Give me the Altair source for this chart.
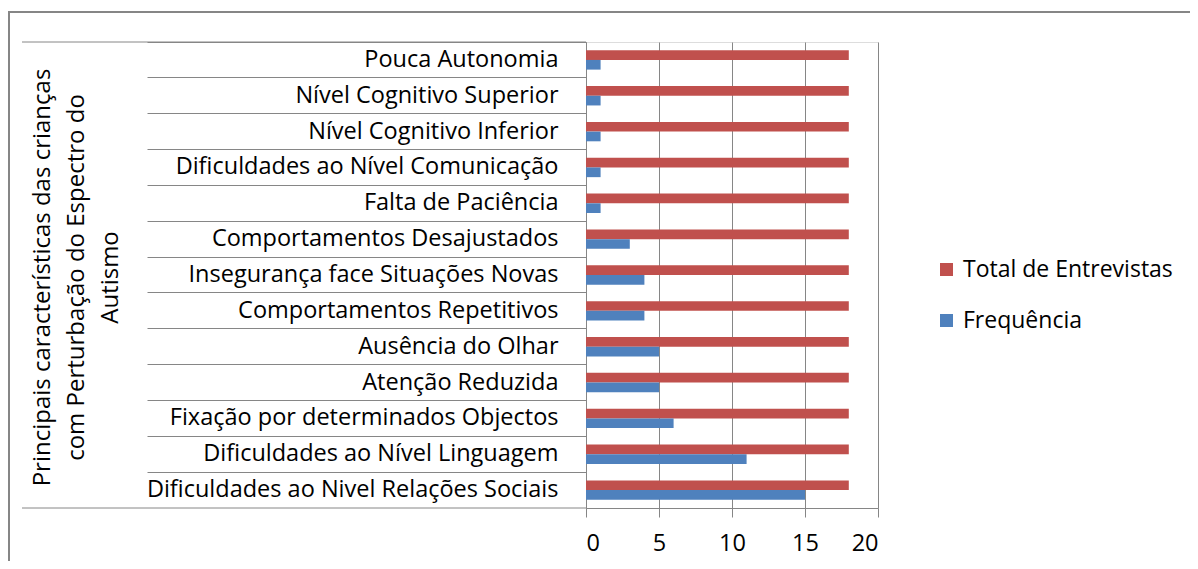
import altair as alt
import pandas as pd

categorias = [
    "Pouca Autonomia",
    "Nível Cognitivo Superior",
    "Nível Cognitivo Inferior",
    "Dificuldades ao Nível Comunicação",
    "Falta de Paciência",
    "Comportamentos Desajustados",
    "Insegurança face Situações Novas",
    "Comportamentos Repetitivos",
    "Ausência do Olhar",
    "Atenção Reduzida",
    "Fixação por determinados Objectos",
    "Dificuldades ao Nível Linguagem",
    "Dificuldades ao Nivel Relações Sociais",
]
total_entrevistas = [18, 18, 18, 18, 18, 18, 18, 18, 18, 18, 18, 18, 18]
frequencia = [1, 1, 1, 1, 1, 3, 4, 4, 5, 5, 6, 11, 15]
series = ["Total de Entrevistas", "Frequência"]
cores = ["#C0504D", "#4F81BD"]
x_ticks = [0, 5, 10, 15, 20]
titulo_y = [
    "Principais características das crianças",
    "com Perturbação do Espectro do",
    "Autismo",
]

FONT = "Open Sans"
FS = 23.5
GRAY = "#868686"
W, H = 292, 466
PL, PT = 578, 34
PR = 1182 - PL - W
PB = 553 - PT - H

rows = []
for c, t, f in zip(categorias, total_entrevistas, frequencia):
    rows.append({"cat": c, "serie": series[0], "valor": t})
    rows.append({"cat": c, "serie": series[1], "valor": f})
df = pd.DataFrame(rows)

bars = alt.Chart(df).mark_bar().encode(
    x=alt.X(
        "valor:Q",
        scale=alt.Scale(domain=[0, 20], nice=False, zero=True),
        axis=alt.Axis(
            values=x_ticks, title=None, grid=True, gridColor=GRAY, gridOpacity=1,
            domainColor=GRAY, tickColor=GRAY, tickSize=9,
            labelFontSize=FS, labelFont=FONT, labelColor="#000", labelPadding=14,
        ),
    ),
    y=alt.Y(
        "cat:N",
        sort=categorias,
        scale=alt.Scale(paddingInner=0, paddingOuter=0),
        axis=alt.Axis(
            title=titulo_y, bandPosition=0, tickSize=439, tickColor=GRAY,
            domainColor=GRAY, labelFontSize=FS, labelFont=FONT, labelColor="#000",
            labelPadding=28 - 439, labelLimit=800,
            titleX=42 - 586, titleY=235, titleAngle=270, titleAlign="center",
            titleBaseline="middle", titleFont=FONT, titleFontSize=24,
            titleFontWeight="normal", titleColor="#000", titleLineHeight=34,
        ),
    ),
    yOffset=alt.YOffset(
        "serie:N", sort=series, scale=alt.Scale(paddingOuter=0.85, paddingInner=0)
    ),
    color=alt.Color(
        "serie:N",
        sort=series,
        scale=alt.Scale(domain=series, range=cores),
        legend=alt.Legend(
            title=None, orient="none", legendX=349, legendY=216,
            symbolType="square", symbolSize=169, symbolStrokeWidth=0,
            symbolOpacity=1, labelFontSize=23, labelFont=FONT,
            labelColor="#000", labelLimit=400, rowPadding=27, labelOffset=5,
            padding=0,
        ),
    ),
)

one = alt.Data(values=[{}])
top_line = alt.Chart(one).mark_rule(color=GRAY, strokeWidth=1).encode(
    x=alt.value(22 - 586), x2=alt.value(0), y=alt.value(0)
)
bottom_line = alt.Chart(one).mark_rule(color=GRAY, strokeWidth=1).encode(
    x=alt.value(22 - 586), x2=alt.value(0), y=alt.value(H)
)
border = alt.Chart(one).mark_rect(
    fillOpacity=0, stroke=GRAY, strokeWidth=2
).encode(
    x=alt.value(9 - 586), x2=alt.value(700), y=alt.value(12 - 42), y2=alt.value(600)
)

chart = alt.layer(border, top_line, bottom_line, bars).properties(
    width=W,
    height=H,
    autosize=alt.AutoSizeParams(type="none"),
    padding={"left": PL, "top": PT, "right": PR, "bottom": PB},
).configure_view(stroke=None).configure(background="white")

chart.save("out.html", embed_options={"renderer": "svg", "actions": False})
